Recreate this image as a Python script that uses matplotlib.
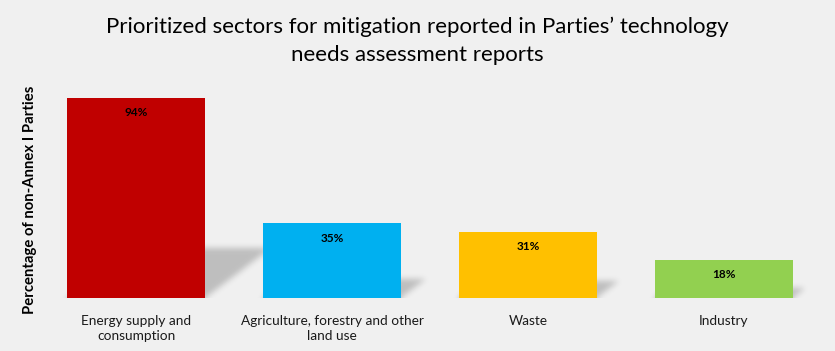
import matplotlib
matplotlib.use("Agg")
import matplotlib.pyplot as plt
import numpy as np

categories = ["Energy supply and\nconsumption",
              "Agriculture, forestry and other\nland use",
              "Waste",
              "Industry"]
values = [94, 35, 31, 18]
labels = ["94%", "35%", "31%", "18%"]
colors = ["#c00000", "#00b0f0", "#ffc000", "#92d050"]

title = "Prioritized sectors for mitigation reported in Parties\u2019 technology\nneeds assessment reports"
ylabel = "Percentage of non-Annex I Parties"

BG = "#f0f0f0"
plt.rcParams['font.family'] = ['Lato', 'DejaVu Sans']

fig = plt.figure(figsize=(8.35, 3.51), dpi=100, facecolor=BG)
ax = fig.add_axes([38/835, 1-298/351, 784/835, (298-85)/351])
ax.set_facecolor(BG)
XL, YL = (-0.5, 3.5), (0, 100)
ax.set_xlim(*XL)
ax.set_ylim(*YL)

width = 0.704
x = list(range(len(values)))

# soft perspective shadows derived from bar geometry (decorative)
W, H = 784, 213
gx = np.linspace(XL[0], XL[1], W)
gy = np.linspace(YL[0], YL[1], H)
X, Y = np.meshgrid(gx, gy)
mask = np.zeros_like(X)
for xi, v in zip(x, values):
    x0, x1 = xi - width/2, xi + width/2
    dx = 0.0036 * v
    top = 0.25 * v
    shift = X - Y * dx / top
    inside = (Y >= 0) & (Y <= top) & (shift >= x0) & (shift <= x1)
    mask[inside] = 1.0
sig = 3.0
k = np.arange(-10, 11)
kern = np.exp(-k**2 / (2*sig**2)); kern /= kern.sum()
pad = np.pad(mask, 10, mode="edge")
pad = np.apply_along_axis(lambda r: np.convolve(r, kern, mode="same"), 1, pad)
pad = np.apply_along_axis(lambda c: np.convolve(c, kern, mode="same"), 0, pad)
blur = pad[10:-10, 10:-10]
rgba = np.zeros((H, W, 4))
rgba[..., 3] = blur * 0.21
ax.imshow(rgba, extent=(XL[0], XL[1], YL[0], YL[1]), origin="lower",
          aspect="auto", zorder=1, interpolation="bilinear")

ax.bar(x, values, width=width, color=colors, zorder=3)
for xi, v, lab in zip(x, values, labels):
    ax.text(xi, v - 7, lab, ha="center", va="center", fontsize=8.5,
            fontweight="bold", color="black", zorder=4)

ax.set_xticks(x)
ax.set_xticklabels(categories, fontsize=9.8, color="#1a1a1a", linespacing=1.3)
ax.tick_params(axis="x", length=0, pad=12)
ax.set_yticks([])
for s in ax.spines.values():
    s.set_visible(False)
ax.set_xlim(*XL)
ax.set_ylim(*YL)

fig.text(30/835, 1-200/351, ylabel, rotation=90, ha="center", va="center",
         fontsize=10.7, fontweight="bold", color="black")
fig.text(0.5, 1-41/351, title, ha="center", va="center", fontsize=16,
         color="black", linespacing=1.5)

fig.savefig("out.png", dpi=100, facecolor=BG)
